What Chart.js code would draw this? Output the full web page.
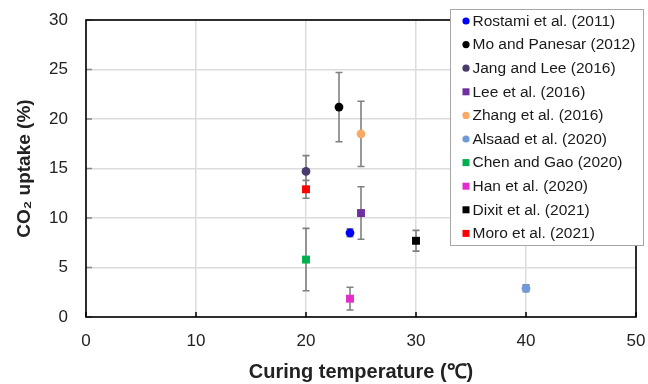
<!DOCTYPE html>
<html>
<head>
<meta charset="utf-8">
<script src="https://cdn.jsdelivr.net/npm/chart.js@4/dist/chart.umd.min.js"></script>
<style>
  html, body { margin: 0; padding: 0; background: #fff; }
  #wrap { width: 648px; height: 384px; }
</style>
</head>
<body>
<div id="wrap"><canvas id="uptakeChart" width="648" height="384"></canvas></div>
<script>
// studies and their values
var studies = ['Rostami et al. (2011)', 'Mo and Panesar (2012)', 'Jang and Lee (2016)', 'Lee et al. (2016)',
    'Zhang et al. (2016)', 'Alsaad et al. (2020)', 'Chen and Gao (2020)', 'Han et al. (2020)',
    'Dixit et al. (2021)', 'Moro et al. (2021)'];
var temperatures = [24, 23, 20, 25, 25, 40, 20, 24, 30, 20];
var uptakes = [8.5, 21.2, 14.7, 10.5, 18.5, 2.9, 5.8, 1.85, 7.7, 12.9];
var errors = [0.4, 3.5, 1.6, 2.65, 3.3, 0.35, 3.15, 1.15, 1.05, 0.9];
var colors = ['#0000ff', '#000000', '#483c6c', '#7030a0', '#f9a966', '#6e9bd8', '#00b050', '#e42ccc', '#000000', '#ff0000'];
var shapes = ['circle', 'circle', 'circle', 'rect', 'circle', 'circle', 'rect', 'rect', 'rect', 'rect'];
var xTicks = [0, 10, 20, 30, 40, 50];
var yTicks = [0, 5, 10, 15, 20, 25, 30];

var datasets = studies.map(function(name, i) {
    return {
        label: name,
        data: [{x: temperatures[i], y: uptakes[i], err: errors[i]}],
        pointStyle: shapes[i],
        pointRadius: shapes[i] === 'rect' ? 5.6 : 4.4,
        pointHoverRadius: shapes[i] === 'rect' ? 5.6 : 4.4,
        backgroundColor: colors[i],
        borderColor: colors[i],
        borderWidth: 0
    };
});

// error bars + frame + inward tick marks, drawn under the markers
var errorBars = {
    id: 'errorBars',
    beforeDatasetsDraw: function(chart) {
        var ctx = chart.ctx, xs = chart.scales.x, ys = chart.scales.y, a = chart.chartArea;
        ctx.save();
        ctx.strokeStyle = '#808080';
        ctx.lineWidth = 1.6;
        chart.data.datasets.forEach(function(ds) {
            ds.data.forEach(function(p) {
                var px = xs.getPixelForValue(p.x);
                var top = ys.getPixelForValue(p.y + p.err);
                var bot = ys.getPixelForValue(p.y - p.err);
                ctx.beginPath();
                ctx.moveTo(px, top); ctx.lineTo(px, bot);
                ctx.moveTo(px - 3.5, top); ctx.lineTo(px + 3.5, top);
                ctx.moveTo(px - 3.5, bot); ctx.lineTo(px + 3.5, bot);
                ctx.stroke();
            });
        });
        // inward tick marks
        ctx.strokeStyle = '#000';
        ctx.lineWidth = 1.5;
        xTicks.forEach(function(v) {
            var px = xs.getPixelForValue(v);
            ctx.beginPath(); ctx.moveTo(px, a.bottom); ctx.lineTo(px, a.bottom - 5); ctx.stroke();
        });
        ctx.strokeStyle = '#888';
        yTicks.forEach(function(v) {
            var py = ys.getPixelForValue(v);
            ctx.beginPath(); ctx.moveTo(a.left, py); ctx.lineTo(a.left + 6, py); ctx.stroke();
        });
        // frame
        ctx.strokeStyle = '#000';
        ctx.lineWidth = 1.6;
        ctx.strokeRect(a.left, a.top, a.right - a.left, a.bottom - a.top);
        ctx.restore();
    }
};

// boxed legend sitting over the top right corner of the plot
var boxLegend = {
    id: 'boxLegend',
    afterDraw: function(chart) {
        var ctx = chart.ctx;
        var bx = 450, by = 9, bw = 193, bh = 236, rowH = 23.6;
        ctx.save();
        ctx.fillStyle = '#fff';
        ctx.fillRect(bx, by, bw, bh);
        ctx.strokeStyle = '#a6a6a6';
        ctx.lineWidth = 1;
        ctx.strokeRect(bx + 0.5, by + 0.5, bw, bh);
        ctx.font = '15.5px "Liberation Sans", Arial, sans-serif';
        ctx.textBaseline = 'middle';
        chart.data.datasets.forEach(function(ds, i) {
            var cy = by + 12 + i * rowH;
            ctx.fillStyle = ds.backgroundColor;
            if (ds.pointStyle === 'rect') {
                ctx.fillRect(462.5, cy - 3.5, 7, 7);
            } else {
                ctx.beginPath(); ctx.arc(466, cy, 3.6, 0, Math.PI * 2); ctx.fill();
            }
            ctx.fillStyle = '#1a1a1a';
            ctx.fillText(ds.label, 472.5, cy + 0.5);
        });
        ctx.restore();
    }
};

var ctx = document.getElementById('uptakeChart').getContext('2d');
var chart = new Chart(ctx, {
    type: 'scatter',
    data: { datasets: datasets },
    plugins: [errorBars, boxLegend],
    options: {
        responsive: false,
        animation: false,
        layout: { padding: { top: 20, right: 12, left: 0, bottom: 0 } },
        scales: {
            x: {
                min: 0,
                max: 50,
                afterFit: function(scale) {
                    scale.height = 67;
                    scale.paddingLeft = 0;
                    scale.paddingRight = 0;
                },
                afterBuildTicks: function(scale) { scale.ticks = xTicks.map(function(v) { return {value: v}; }); },
                ticks: {
                    color: '#222',
                    padding: 14,
                    font: { size: 17, family: '"Liberation Sans", Arial, sans-serif' }
                },
                grid: { color: '#dcdcdc', lineWidth: 1.5, drawTicks: false },
                border: { display: false },
                title: {
                    display: true,
                    text: 'Curing temperature (℃)',
                    color: '#222',
                    padding: { top: 6, bottom: 0 },
                    font: { size: 20, weight: 'bold', family: '"Liberation Sans", Arial, sans-serif' }
                }
            },
            y: {
                min: 0,
                max: 30,
                afterFit: function(scale) {
                    scale.width = 86;
                    scale.paddingTop = 0;
                    scale.paddingBottom = 0;
                },
                afterBuildTicks: function(scale) { scale.ticks = yTicks.map(function(v) { return {value: v}; }); },
                ticks: {
                    color: '#222',
                    padding: 18,
                    font: { size: 17, family: '"Liberation Sans", Arial, sans-serif' }
                },
                grid: { color: '#dcdcdc', lineWidth: 1.5, drawTicks: false },
                border: { display: false },
                title: {
                    display: true,
                    text: 'CO₂ uptake (%)',
                    color: '#222',
                    padding: { top: 13, bottom: 0 },
                    font: { size: 19, weight: 'bold', family: '"Liberation Sans", Arial, sans-serif' }
                }
            }
        },
        plugins: {
            legend: { display: false },
            tooltip: { enabled: false }
        }
    }
});
</script>
</body>
</html>
